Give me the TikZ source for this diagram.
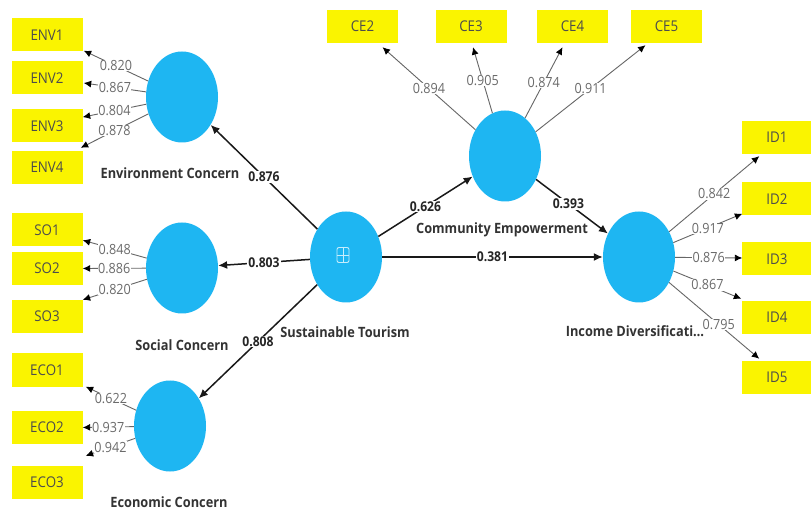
\documentclass[tikz,border=0pt]{standalone}
\usepackage{fontspec}
\setmainfont[FakeStretch=0.9]{Open Sans}
\usetikzlibrary{arrows.meta,shapes.geometric,calc}
\definecolor{lvblue}{RGB}{30,182,242}
\definecolor{indyellow}{RGB}{250,244,0}
\begin{document}
\begin{tikzpicture}[x=1pt,y=-1pt,
  latent/.style={ellipse, fill=lvblue, minimum width=72pt, minimum height=91pt, inner sep=0pt},
  indbox/.style={rectangle, fill=indyellow, minimum width=71pt, minimum height=33pt, inner sep=0pt,
    font=\fontsize{14.8}{16}\selectfont, text=black!70},
  load/.style={draw=black!60, line width=0.9pt, -{Latex[color=black,length=7.5pt,width=7pt]}},
  struct/.style={draw=black!90, line width=1.5pt, -{Latex[length=9pt,width=8pt]}},
  lw/.style={fill=white, inner sep=0.4pt, font=\fontsize{14}{15}\selectfont, text=black!58},
  pw/.style={fill=white, inner sep=1pt, font=\bfseries\fontsize{13.5}{15}\selectfont, text=black!85},
  lvname/.style={font=\bfseries\fontsize{14.2}{16}\selectfont, text=black!80}]
\fill[white] (0,0) rectangle (811,510);
\useasboundingbox (0,0) rectangle (811,510);
\clip (0,0) rectangle (811,510);

% latent variables
\node[latent] (env) at (182,97) {};
\node[latent] (soc) at (182,268) {};
\node[latent] (eco) at (170,426) {};
\node[latent] (st)  at (346,257) {};
\node[latent] (ce)  at (505,156) {};
\node[latent] (inc) at (639,257) {};

% latent variable names
\node[lvname] (envname) at (170,173) {Environment Concern};
\node[lvname] (socname) at (182,345) {Social Concern};
\node[lvname] (econame) at (169,502) {Economic Concern};
\node[lvname] (stname)  at (345,332) {Sustainable Tourism};
\node[lvname] (cename)  at (502,230) {Community Empowerment};
\node[lvname] (incname) at (635,331) {Income Diversificati\ldots};

% formative-construct icon
\node[draw=white!75!lvblue, line width=0.9pt, rounded corners=2pt, minimum width=12pt, minimum height=15pt, inner sep=0pt] (icon) at (343,255) {};
\draw[white!75!lvblue, line width=0.9pt] (icon.north) -- (icon.south) (icon.west) -- (icon.east);

% indicators
\node[indbox] (env1) at (47,35) {ENV1};
\node[indbox] (env2) at (47,78) {ENV2};
\node[indbox] (env3) at (47,126) {ENV3};
\node[indbox] (env4) at (47,167.5) {ENV4};
\node[indbox] (so1) at (47,230) {SO1};
\node[indbox] (so2) at (47,268.5) {SO2};
\node[indbox] (so3) at (47,316.5) {SO3};
\node[indbox] (eco1) at (47,370) {ECO1};
\node[indbox] (eco2) at (47,427.5) {ECO2};
\node[indbox] (eco3) at (47,482.5) {ECO3};
\node[indbox] (ce2) at (362.5,26.5) {CE2};
\node[indbox] (ce3) at (471,26.5) {CE3};
\node[indbox] (ce4) at (572.5,26.5) {CE4};
\node[indbox] (ce5) at (666.5,26.5) {CE5};
\node[indbox] (id1) at (777,137.5) {ID1};
\node[indbox] (id2) at (777,199) {ID2};
\node[indbox] (id3) at (777,259) {ID3};
\node[indbox] (id4) at (777,317.5) {ID4};
\node[indbox] (id5) at (777,377.5) {ID5};

% outer loadings
\draw[load] (env) -- node[lw]{0.820} ($(env1.south east)+(1,-1)$);
\draw[load] (env) -- node[lw]{0.867} ($(env2.east)+(1,5)$);
\draw[load] (env) -- node[lw]{0.804} (env3.14);
\draw[load] (env) -- node[lw]{0.878} ($(env4.north east)+(-2,-3)$);
\draw[load] (soc) -- node[lw]{0.848} (so1.-16);
\draw[load] (soc) -- node[lw]{0.886} (so2.east);
\draw[load] (soc) -- node[lw]{0.820} (so3.north east);
\draw[load] (eco) -- node[lw]{0.622} ($(eco1.south east)+(3,0)$);
\draw[load] (eco) -- node[lw]{0.937} (eco2.east);
\draw[load] (eco) -- node[lw]{0.942} ($(eco3.north east)+(3,-10)$);
\draw[load] (ce) -- node[lw]{0.894} ($(ce2.south)+(20,4)$);
\draw[load] (ce) -- node[lw]{0.905} ($(ce3.south)+(2,4)$);
\draw[load] (ce) -- node[lw]{0.874} ($(ce4.south)+(-10,4)$);
\draw[load] (ce) -- node[lw]{0.911} ($(ce5.south)+(-21,2)$);
\draw[load] (inc) -- node[lw]{0.842} ($(id1.south west)+(18,2)$);
\draw[load] (inc) -- node[lw]{0.917} ($(id2.south west)+(1,-2)$);
\draw[load] (inc) -- node[lw]{0.876} ($(id3.west)+(1,-1)$);
\draw[load] (inc) -- node[lw]{0.867} ($(id4.north west)+(0,-2)$);
\draw[load] (inc) -- node[lw,pos=0.55]{0.795} ($(id5.north west)+(18,-2)$);

% structural paths
\draw[struct] (st) -- node[pw]{0.876} (env);
\draw[struct] (st) -- node[pw]{0.803} (soc);
\draw[struct] (st) -- node[pw]{0.808} (eco);
\draw[struct] (st) -- node[pw]{0.626} (ce);
\draw[struct] (ce) -- node[pw,pos=0.45]{0.393} (inc);
\draw[struct] (st) -- node[pw]{0.381} (inc);
\end{tikzpicture}
\end{document}
